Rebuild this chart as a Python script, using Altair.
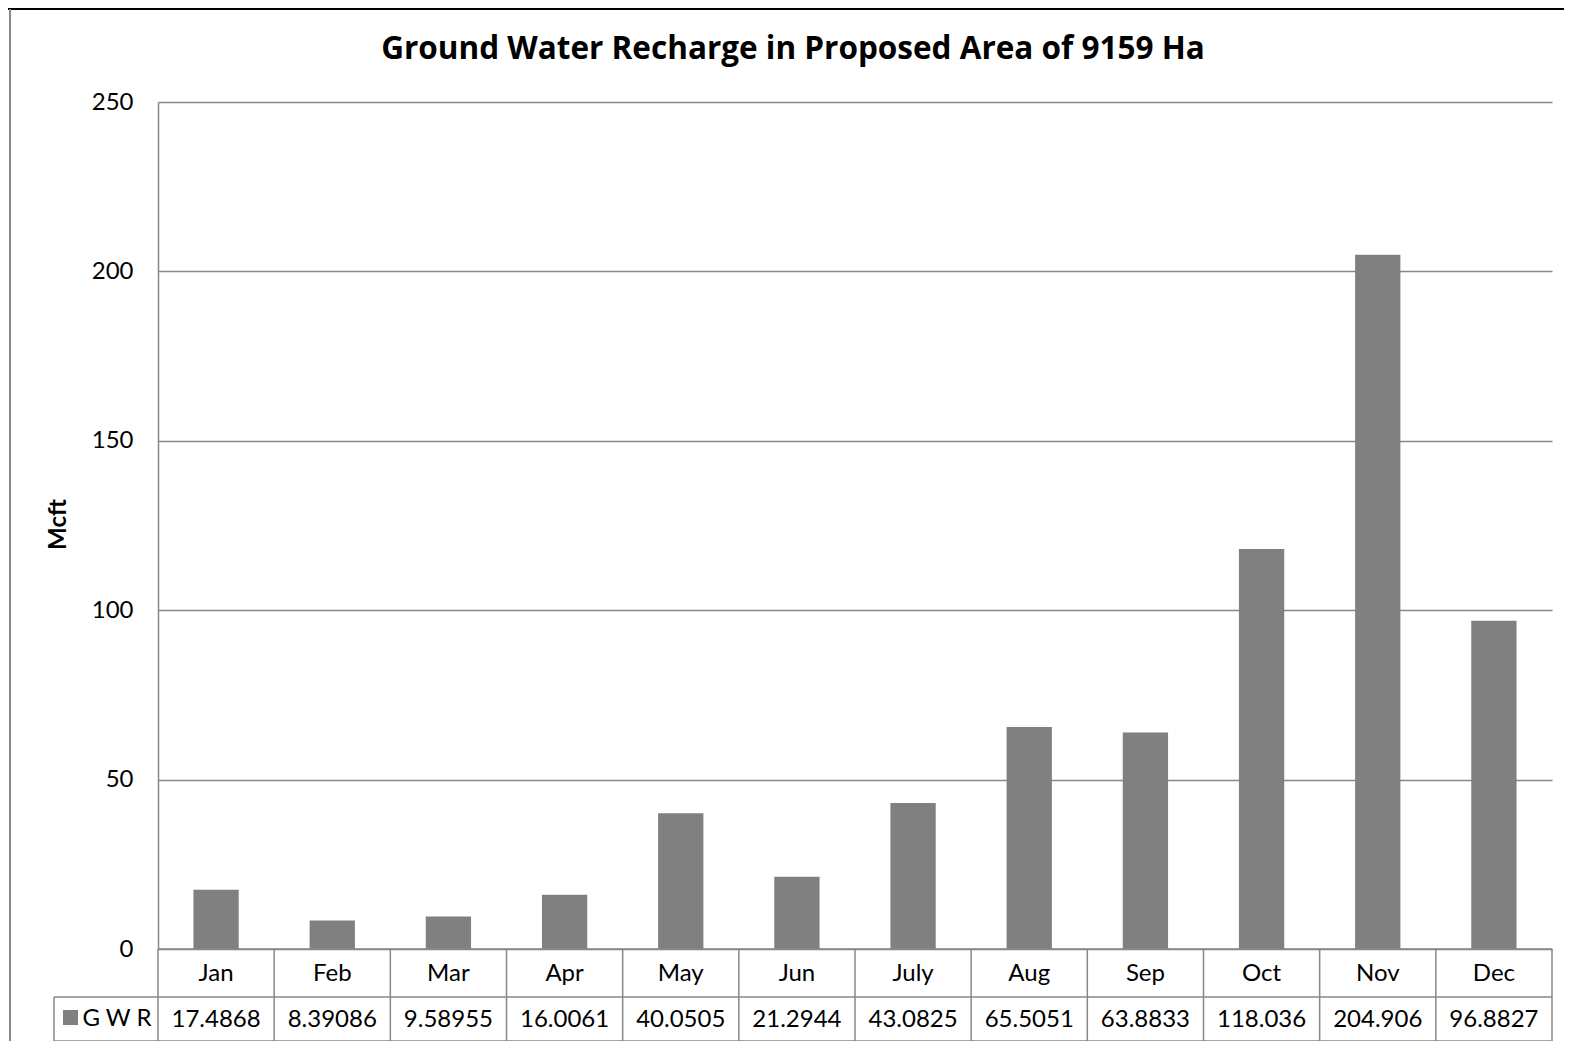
import altair as alt
import pandas as pd

# ---- data ----
months = ["Jan", "Feb", "Mar", "Apr", "May", "Jun", "July", "Aug", "Sep", "Oct", "Nov", "Dec"]
gwr = [17.4868, 8.39086, 9.58955, 16.0061, 40.0505, 21.2944, 43.0825, 65.5051, 63.8833, 118.036, 204.906, 96.8827]
series_name = "G W R"
chart_title = "Ground Water Recharge in Proposed Area of 9159 Ha"
y_title = "Mcft"
y_ticks = [0, 50, 100, 150, 200, 250]

# ---- layout / style ----
W, H = 1394, 847
FONT = "Lato"
TITLE_FONT = "Open Sans"
BAR = "#808080"
LINE = "#878787"
ROW1_BOTTOM = 895      # pixel offsets below plot top for the data table
ROW2_BOTTOM = 939
LEG_LEFT = -104

df = pd.DataFrame({"month": months, "value": gwr})
bounds = pd.DataFrame({"b": list(range(len(months) + 1))})

# table frame segments (pixel space)
frame = pd.DataFrame({
    "x": [0, LEG_LEFT, LEG_LEFT, LEG_LEFT],
    "x2": [W, W, W, LEG_LEFT],
    "y": [H, ROW1_BOTTOM, ROW2_BOTTOM, ROW1_BOTTOM],
    "y2": [H, ROW1_BOTTOM, ROW2_BOTTOM, ROW2_BOTTOM],
})
# screenshot border (top black, left gray)
border = pd.DataFrame({
    "x": [-150, -148], "x2": [W + 20, -148],
    "y": [-93, -93], "y2": [-93, H + 120],
    "c": ["#000000", "#8a8a8a"],
})
legend_df = pd.DataFrame({"name": [series_name]})
title_df = pd.DataFrame({"t": [chart_title]})

xband = alt.Scale(type="band", domain=months, paddingInner=0.61, paddingOuter=0.305)
X = alt.X("month:N", scale=xband, axis=None)

bars = alt.Chart(df).mark_bar(color=BAR).encode(
    x=X,
    y=alt.Y(
        "value:Q",
        scale=alt.Scale(domain=[0, 250], nice=False),
        axis=alt.Axis(
            values=y_ticks, title=y_title, grid=True, ticks=False,
            domain=True, domainColor=LINE, domainWidth=1.5,
            gridColor=LINE, gridWidth=1.5,
            labelFont=FONT, labelFontSize=24, labelColor="black", labelPadding=25,
            titleFont=FONT, titleFontSize=24, titleFontWeight="bold", titleColor="black",
            titleAngle=-90, titleX=-100, titleY=422, titleAlign="center", titleBaseline="middle",
        ),
    ),
)

cat_text = alt.Chart(df).mark_text(font=FONT, fontSize=24, color="black", baseline="alphabetic").encode(
    x=X, y=alt.value(879), text="month:N"
)
val_text = alt.Chart(df).mark_text(font=FONT, fontSize=24, color="black", baseline="alphabetic").encode(
    x=X, y=alt.value(925), text=alt.Text("value:Q", format=".6~g")
)

vlines = alt.Chart(bounds).mark_rule(color=LINE, strokeWidth=1.5).encode(
    x=alt.X("b:Q", scale=alt.Scale(domain=[0, len(months)], nice=False, zero=False), axis=None),
    y=alt.value(H), y2=alt.value(ROW2_BOTTOM),
)

hlines = alt.Chart(frame).mark_rule(color=LINE, strokeWidth=1.5).encode(
    x=alt.X("x:Q", scale=None), x2="x2:Q",
    y=alt.Y("y:Q", scale=None), y2="y2:Q",
)

border_lines = alt.Chart(border).mark_rule(strokeWidth=2).encode(
    x=alt.X("x:Q", scale=None), x2="x2:Q",
    y=alt.Y("y:Q", scale=None), y2="y2:Q",
    color=alt.Color("c:N", scale=None),
)

legend_sq = alt.Chart(legend_df).mark_rect(color=BAR).encode(
    x=alt.value(-95), x2=alt.value(-80), y=alt.value(908), y2=alt.value(923)
)
legend_txt = alt.Chart(legend_df).mark_text(font=FONT, fontSize=24, color="black", baseline="alphabetic").encode(
    x=alt.value(-41), y=alt.value(924), text="name:N"
)

title_txt = alt.Chart(title_df).mark_text(
    font=TITLE_FONT, fontSize=31.5, fontWeight="bold", color="black", baseline="alphabetic", align="center"
).encode(x=alt.value(635), y=alt.value(-43), text="t:N")

chart = alt.layer(
    bars, vlines, hlines, border_lines, cat_text, val_text, legend_sq, legend_txt, title_txt
).resolve_scale(x="independent").properties(
    width=W, height=H,
    autosize=alt.AutoSizeParams(type="none"),
    padding={"left": 150, "top": 94, "right": 12, "bottom": 92},
).configure_view(stroke=None)

chart.save("out.html", embed_options={"renderer": "svg", "actions": False})
